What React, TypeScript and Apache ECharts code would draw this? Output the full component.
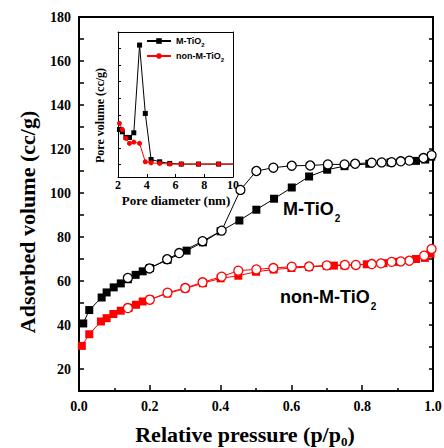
import React, { useEffect, useRef } from "react";
import * as echarts from "echarts";

// Main isotherm data (relative pressure p/p0, adsorbed volume cc/g)
const mAdsX = [0.012, 0.029, 0.064, 0.078, 0.098, 0.118, 0.138, 0.160, 0.180, 0.200, 0.250, 0.304, 0.350, 0.400, 0.453, 0.501, 0.551, 0.601, 0.650, 0.701, 0.750, 0.820, 0.880, 0.952, 0.978, 0.995];
const mAdsY = [40.7, 46.8, 52.5, 54.8, 57.1, 58.9, 60.8, 62.8, 64.4, 65.9, 69.6, 73.8, 77.6, 82.6, 87.5, 92.4, 97.4, 102.5, 107.5, 110.6, 112.2, 113.3, 113.9, 114.6, 115.2, 116.5];
const mDesX = [0.996, 0.973, 0.933, 0.909, 0.883, 0.855, 0.827, 0.780, 0.750, 0.703, 0.653, 0.601, 0.549, 0.501, 0.456, 0.403, 0.349, 0.283, 0.249, 0.199, 0.138];
const mDesY = [117.2, 115.9, 114.7, 114.4, 114.0, 113.9, 113.8, 113.3, 113.0, 113.0, 112.5, 112.4, 111.5, 110.0, 101.4, 82.9, 78.1, 72.7, 69.9, 65.7, 61.4];

const nAdsX = [0.008, 0.029, 0.062, 0.078, 0.097, 0.118, 0.140, 0.161, 0.180, 0.200, 0.250, 0.300, 0.350, 0.400, 0.450, 0.500, 0.550, 0.600, 0.650, 0.700, 0.720, 0.750, 0.813, 0.860, 0.900, 0.952, 0.977, 0.993];
const nAdsY = [30.5, 35.8, 41.6, 43.1, 45.0, 46.5, 47.8, 49.2, 50.7, 51.6, 54.3, 56.6, 59.0, 61.2, 62.4, 64.2, 65.2, 65.9, 66.4, 66.8, 67.0, 67.1, 67.6, 68.1, 68.7, 70.0, 70.5, 72.4];
const nDesX = [0.996, 0.975, 0.933, 0.909, 0.883, 0.853, 0.827, 0.782, 0.751, 0.700, 0.650, 0.601, 0.549, 0.501, 0.450, 0.403, 0.349, 0.300, 0.250, 0.200, 0.138];
const nDesY = [74.6, 71.5, 69.2, 68.9, 68.7, 68.0, 67.7, 67.3, 67.3, 67.1, 66.6, 66.5, 65.9, 65.3, 64.7, 62.0, 59.4, 56.8, 54.7, 51.5, 47.7];

// Inset: pore size distribution (last point is the line running off the frame)
const poreDiameter = [2.1, 2.3, 2.55, 2.8, 3.1, 3.5, 3.9, 4.3, 4.9, 5.6, 6.4, 7.6, 9.0, 10.4];
const poreVolM = [0.0211, 0.0197, 0.0163, 0.0163, 0.0191, 0.0721, 0.0308, 0.0030, 0.0016, 0.0006, 0.0002, 0.0002, 0.0002, 0.0002];
const poreVolN = [0.0248, 0.0211, 0.0157, 0.0127, 0.0135, 0.0127, 0.0016, 0.0010, 0.0006, 0.0002, 0.0002, 0.0002, 0.0002, 0.0002];

const yTicksMain = [20, 40, 60, 80, 100, 120, 140, 160, 180];
const insetYTicks = [0, 0.01, 0.02, 0.03, 0.04, 0.05, 0.06, 0.07, 0.08];

const SERIF = "Liberation Serif";
const SANS = "Liberation Sans";
const RED = "#ff0000";

const zip = (xs: number[], ys: number[]) => xs.map((x, i) => [x, ys[i]]);

export default function App() {
  const ref = useRef<HTMLDivElement>(null);
  useEffect(() => {
    if (!ref.current) return;
    const chart = echarts.init(ref.current, null, { renderer: "svg" });
    const lastIdx = poreDiameter.length - 1;
    const insetData = (ys: number[]) =>
      poreDiameter.map((x, i) => (i === lastIdx ? { value: [x, ys[i]], symbol: "none" } : [x, ys[i]]));
    const boldSerif = (size: number) => ({ fontFamily: SERIF, fontWeight: "bold" as const, fontSize: size, color: "#000" });
    const annRich = {
      a: { fontFamily: SANS, fontWeight: "bold", fontSize: 18, fill: "#000", lineHeight: 20, verticalAlign: "top" },
      s: { fontFamily: SANS, fontWeight: "bold", fontSize: 10, fill: "#000", lineHeight: 10, padding: [13, 0, 0, 1], verticalAlign: "top" },
    };

    chart.setOption({
      animation: false,
      backgroundColor: "#fff",
      grid: [
        { left: 79, top: 17, width: 354, height: 374, outerBoundsMode: "none", containLabel: false },
        { left: 118, top: 32, width: 115, height: 145, outerBoundsMode: "none", containLabel: false },
      ],
      legend: {
        data: ["M-TiO2", "non-M-TiO2"],
        orient: "vertical",
        left: 141,
        top: 31,
        itemWidth: 24,
        itemHeight: 7,
        itemGap: 3,
        textStyle: {
          fontFamily: SANS,
          fontWeight: "bold",
          fontSize: 9,
          color: "#000",
          rich: {
            a: { fontFamily: SANS, fontWeight: "bold", fontSize: 9, color: "#000", lineHeight: 10, verticalAlign: "top" },
            s: { fontFamily: SANS, fontWeight: "bold", fontSize: 6, color: "#000", lineHeight: 6, padding: [6, 0, 0, 0], verticalAlign: "top" },
          },
        },
        formatter: (name: string) => (name === "M-TiO2" ? "{a|M-TiO}{s|2}" : "{a|non-M-TiO}{s|2}"),
      },
      xAxis: [
        {
          type: "value", gridIndex: 0, min: 0, max: 1, interval: 0.2, position: "bottom",
          axisLine: { show: true, onZero: false, lineStyle: { color: "#000", width: 2 } },
          axisTick: { show: true, inside: true, length: 6, lineStyle: { color: "#000", width: 1.5 } },
          minorTick: { show: true, splitNumber: 2, length: 3, lineStyle: { color: "#000", width: 1.5 } },
          axisLabel: { ...boldSerif(14), margin: 8, formatter: (v: number) => v.toFixed(1) },
          splitLine: { show: false },
          name: "{a|Relative pressure (p/p}{s|0}{a|)}",
          nameLocation: "middle",
          nameGap: 32,
          nameTextStyle: {
            padding: [0, 22, 0, 0],
            rich: {
              a: { ...boldSerif(22), lineHeight: 24, verticalAlign: "top" },
              s: { ...boldSerif(13), lineHeight: 13, padding: [12, 0, 0, 0], verticalAlign: "top" },
            },
          },
        },
        {
          type: "value", gridIndex: 0, min: 0, max: 1, position: "top",
          axisLine: { show: true, onZero: false, lineStyle: { color: "#000", width: 2 } },
          axisTick: { show: false }, axisLabel: { show: false }, splitLine: { show: false },
        },
        {
          type: "value", gridIndex: 1, min: 2, max: 10, interval: 2, position: "bottom",
          axisLine: { show: true, onZero: false, lineStyle: { color: "#000", width: 1 } },
          axisTick: { show: true, inside: true, length: 3, lineStyle: { color: "#000", width: 1 } },
          axisLabel: { ...boldSerif(12), margin: 2 },
          splitLine: { show: false },
          name: "Pore diameter (nm)",
          nameLocation: "middle",
          nameGap: 17,
          nameTextStyle: { ...boldSerif(13), padding: [0, 0, 0, 1] },
        },
        {
          type: "value", gridIndex: 1, min: 2, max: 10, position: "top",
          axisLine: { show: true, onZero: false, lineStyle: { color: "#000", width: 1 } },
          axisTick: { show: false }, axisLabel: { show: false }, splitLine: { show: false },
        },
      ],
      yAxis: [
        {
          type: "value", gridIndex: 0, min: 10, max: 180, interval: 10, position: "left",
          axisLine: { show: true, onZero: false, lineStyle: { color: "#000", width: 2 } },
          axisTick: { show: true, inside: true, length: 5, lineStyle: { color: "#000", width: 1.5 } },
          axisLabel: { ...boldSerif(14), margin: 8, formatter: (v: number) => (yTicksMain.includes(v) ? String(v) : "") },
          splitLine: { show: false },
          name: "Adsorbed volume (cc/g)",
          nameLocation: "middle",
          nameGap: 41,
          nameTextStyle: { ...boldSerif(22), padding: [0, 36, 0, 0] },
        },
        {
          type: "value", gridIndex: 0, min: 10, max: 180, interval: 10, position: "right",
          axisLine: { show: true, onZero: false, lineStyle: { color: "#000", width: 2 } },
          axisTick: { show: true, inside: true, length: 4, lineStyle: { color: "#000", width: 1.5 } },
          axisLabel: { show: false }, splitLine: { show: false },
        },
        {
          type: "value", gridIndex: 1, min: -0.0076, max: 0.08, position: "left",
          axisLine: { show: true, onZero: false, lineStyle: { color: "#000", width: 1 } },
          axisTick: { show: true, inside: true, length: 3, customValues: insetYTicks, lineStyle: { color: "#000", width: 1 } },
          axisLabel: { show: false }, splitLine: { show: false },
          name: "Pore volume (cc/g)",
          nameLocation: "middle",
          nameGap: 12,
          nameTextStyle: { ...boldSerif(12), padding: [0, 22, 0, 0] },
        },
        {
          type: "value", gridIndex: 1, min: -0.0076, max: 0.08, position: "right",
          axisLine: { show: true, onZero: false, lineStyle: { color: "#000", width: 1 } },
          axisTick: { show: false }, axisLabel: { show: false }, splitLine: { show: false },
        },
      ],
      graphic: [
        { type: "text", left: 283, top: 200, style: { text: "{a|M-TiO}{s|2}", rich: annRich } },
        { type: "text", left: 280, top: 288, style: { text: "{a|non-M-TiO}{s|2}", rich: annRich } },
      ],
      series: [
        {
          name: "M-TiO2 adsorption", type: "line", xAxisIndex: 0, yAxisIndex: 0,
          data: zip(mAdsX, mAdsY), symbol: "rect", symbolSize: 8,
          lineStyle: { color: "#000", width: 1 }, itemStyle: { color: "#000" },
        },
        {
          name: "M-TiO2 desorption", type: "line", xAxisIndex: 0, yAxisIndex: 0,
          data: zip(mDesX, mDesY), symbol: "circle", symbolSize: 9, showAllSymbol: true,
          lineStyle: { color: "#000", width: 1 }, itemStyle: { color: "#fff", borderColor: "#000", borderWidth: 1.3 },
        },
        {
          name: "non-M-TiO2 adsorption", type: "line", xAxisIndex: 0, yAxisIndex: 0,
          data: zip(nAdsX, nAdsY), symbol: "rect", symbolSize: 8,
          lineStyle: { color: RED, width: 1 }, itemStyle: { color: RED },
        },
        {
          name: "non-M-TiO2 desorption", type: "line", xAxisIndex: 0, yAxisIndex: 0,
          data: zip(nDesX, nDesY), symbol: "circle", symbolSize: 9, showAllSymbol: true,
          lineStyle: { color: RED, width: 1 }, itemStyle: { color: "#fff", borderColor: RED, borderWidth: 1.3 },
        },
        {
          name: "M-TiO2", type: "line", xAxisIndex: 2, yAxisIndex: 2,
          data: insetData(poreVolM), symbol: "rect", symbolSize: 5, showAllSymbol: true,
          lineStyle: { color: "#000", width: 1 }, itemStyle: { color: "#000" },
        },
        {
          name: "non-M-TiO2", type: "line", xAxisIndex: 2, yAxisIndex: 2,
          data: insetData(poreVolN), symbol: "circle", symbolSize: 5, showAllSymbol: true,
          lineStyle: { color: RED, width: 1 }, itemStyle: { color: RED },
        },
      ],
    });
    return () => chart.dispose();
  }, []);
  return <div ref={ref} style={{ position: "fixed", left: 0, top: 0, width: 444, height: 448 }} />;
}
